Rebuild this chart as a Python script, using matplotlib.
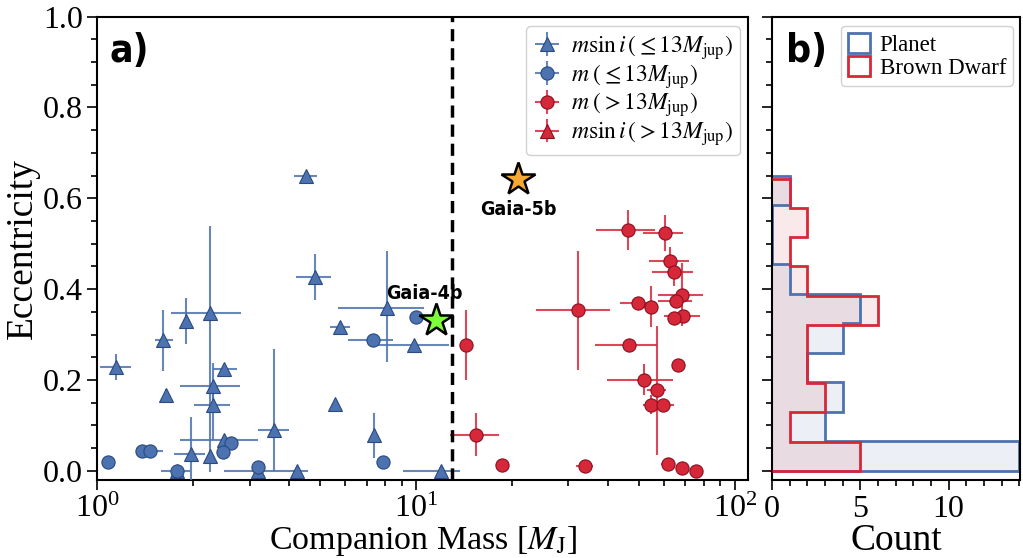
import numpy as np
import matplotlib
matplotlib.use("Agg")
import matplotlib.pyplot as plt
from matplotlib.ticker import MultipleLocator
from matplotlib.patches import Patch
from matplotlib import font_manager as fm
from matplotlib.colors import to_rgba

plt.rcParams['font.family'] = ['Liberation Serif', 'DejaVu Serif']
plt.rcParams['mathtext.fontset'] = 'stix'

BLUE = '#4c72b0'
BLUE_E = '#2a4a80'
RED = '#d62839'
RED_E = '#8a1020'

# ---- blue circles: true mass m (<= 13 Mjup)
bc_mass = [1.08, 1.38, 1.46, 1.78, 2.63, 2.48, 3.19, 7.32, 7.87, 10.0]
bc_ecc = [0.020, 0.044, 0.044, 0.0, 0.062, 0.041, 0.009, 0.289, 0.020, 0.339]
bc_mlo = [0.03, 0.05, 0.05, 0.20, 0.05, 0.05, 0.05, 1.19, 0.0, 0.2]
bc_mhi = [0.03, 0.05, 0.14, 0.17, 0.05, 0.05, 0.05, 1.12, 0.0, 0.2]
bc_elo = [0.01, 0.0, 0.0, 0.0, 0.0, 0.0, 0.0, 0.0, 0.0, 0.0]
bc_ehi = [0.01, 0.0, 0.0, 0.0, 0.0, 0.0, 0.0, 0.0, 0.0, 0.0]

# ---- blue triangles: m sin i (<= 13 Mjup)
bt_mass = [1.14, 1.61, 1.64, 1.90, 2.26, 2.50, 2.30, 2.30, 2.50, 2.26, 1.96,
           3.19, 1.78, 3.59, 4.22, 4.50, 4.83, 5.77, 5.56, 8.12, 7.36, 9.84, 12.0]
bt_ecc = [0.229, 0.287, 0.166, 0.330, 0.348, 0.225, 0.187, 0.146, 0.067, 0.033, 0.038,
          0.0, 0.0, 0.089, 0.0, 0.650, 0.427, 0.317, 0.148, 0.359, 0.078, 0.277, 0.0]
bt_mlo = [0.12, 0.10, 0.02, 0.02, 0.56, 0.20, 0.49, 0.29, 0.69, 0.0, 0.22,
          0.69, 0.0, 0.40, 0.10, 0.37, 0.63, 0.40, 0.0, 2.43, 0.0, 2.30, 2.90]
bt_mhi = [0.13, 0.12, 0.02, 0.02, 0.56, 0.24, 0.51, 0.30, 0.68, 0.0, 0.21,
          1.40, 0.0, 0.40, 0.10, 0.40, 0.57, 0.45, 0.0, 2.50, 0.0, 2.80, 1.70]
bt_elo = [0.028, 0.068, 0.015, 0.05, 0.35, 0.01, 0.05, 0.077, 0.0, 0.0, 0.08,
          0.0, 0.0, 0.09, 0.0, 0.01, 0.05, 0.01, 0.0, 0.12, 0.05, 0.0, 0.0]
bt_ehi = [0.028, 0.068, 0.015, 0.05, 0.19, 0.01, 0.05, 0.05, 0.0, 0.0, 0.08,
          0.0, 0.0, 0.18, 0.0, 0.01, 0.05, 0.01, 0.0, 0.125, 0.05, 0.0, 0.0]

# ---- red circles: true mass m (> 13 Mjup)
rc_mass = [46.2, 60.3, 62.8, 64.5, 68.5, 65.6, 49.7, 54.5, 68.8, 64.5, 32.2, 46.6,
           66.4, 51.9, 57.0, 54.4, 59.6, 33.8, 61.7, 68.5, 75.4, 14.3, 15.45, 18.56]
rc_ecc = [0.531, 0.523, 0.463, 0.438, 0.388, 0.374, 0.370, 0.361, 0.341, 0.336, 0.354, 0.278,
          0.234, 0.201, 0.178, 0.146, 0.146, 0.011, 0.016, 0.007, 0.0, 0.277, 0.080, 0.013]
rc_mlo = [9.6, 8.8, 9.0, 9.5, 11.0, 8.0, 6.0, 3.0, 9.0, 2.0, 8.4, 10.3,
          1.5, 12.2, 4.0, 3.0, 5.0, 2.0, 3.0, 0.0, 0.0, 0.3, 2.65, 0.3]
rc_mhi = [9.9, 8.7, 9.0, 9.5, 11.0, 8.0, 6.0, 3.0, 9.0, 2.0, 8.4, 10.3,
          1.5, 12.2, 4.0, 3.0, 5.0, 2.0, 3.0, 0.0, 0.0, 0.3, 2.75, 0.3]
rc_elo = [0.044, 0.04, 0.03, 0.03, 0.07, 0.01, 0.01, 0.045, 0.01, 0.01, 0.132, 0.01,
          0.01, 0.035, 0.142, 0.02, 0.01, 0.0, 0.0, 0.0, 0.0, 0.077, 0.048, 0.0]
rc_ehi = [0.044, 0.04, 0.03, 0.03, 0.07, 0.01, 0.01, 0.045, 0.01, 0.01, 0.13, 0.01,
          0.01, 0.035, 0.14, 0.02, 0.01, 0.0, 0.0, 0.0, 0.0, 0.077, 0.048, 0.0]

# ---- Gaia companions
gaia4b_mass, gaia4b_ecc = 11.5, 0.333
gaia5b_mass, gaia5b_ecc = 20.9, 0.643
mass_limit = 13.0

planet_ecc = bc_ecc + bt_ecc + [gaia4b_ecc]
bd_ecc = rc_ecc + [gaia5b_ecc]


def narrow_bold_font():
    """Pick the narrowest installed bold sans font available."""
    order = {'ultra-condensed': 0, 'extra-condensed': 1, 'condensed': 2,
             'semi-condensed': 3}
    best = None
    for f in fm.fontManager.ttflist:
        w = f.weight
        if isinstance(w, str):
            w = {'bold': 700, 'heavy': 800, 'black': 900, 'semibold': 600,
                 'demibold': 600, 'extra bold': 800}.get(w, 400)
        if w < 600:
            continue
        if 'Serif' in f.name or 'Mono' in f.name or 'CJK' in f.name:
            continue
        st = f.stretch if isinstance(f.stretch, str) else (
            'condensed' if f.stretch < 500 else 'normal')
        rank = order.get(st, None)
        if rank is None and ('Narrow' in f.name or 'Condensed' in f.name):
            rank = 2
        if rank is None:
            continue
        key = (rank, abs(w - 700))
        if best is None or key < best[0]:
            best = (key, f.fname)
    if best is None:
        return fm.FontProperties(family='DejaVu Sans', weight='bold')
    return fm.FontProperties(fname=best[1])


nfp = narrow_bold_font()

fig = plt.figure(figsize=(10.23, 5.58), dpi=100)
ax = fig.add_axes([0.0953, 0.1398, 0.6359, 0.8306])
axh = fig.add_axes([0.7547, 0.1398, 0.2424, 0.8306], sharey=ax)

ekw = dict(elinewidth=1.5, capsize=0, linestyle='none', markersize=9.5,
           markeredgewidth=0.8)
BLUE_ERR = to_rgba(BLUE, 0.85)
RED_ERR = to_rgba(RED, 0.85)

h_bt = ax.errorbar(bt_mass, bt_ecc, xerr=[bt_mlo, bt_mhi], yerr=[bt_elo, bt_ehi],
                   fmt='^', color=BLUE, ecolor=BLUE_ERR, markeredgecolor=BLUE_E, zorder=3, **ekw)
h_bc = ax.errorbar(bc_mass, bc_ecc, xerr=[bc_mlo, bc_mhi], yerr=[bc_elo, bc_ehi],
                   fmt='o', color=BLUE, ecolor=BLUE_ERR, markeredgecolor=BLUE_E, zorder=3, **ekw)
h_rc = ax.errorbar(rc_mass, rc_ecc, xerr=[rc_mlo, rc_mhi], yerr=[rc_elo, rc_ehi],
                   fmt='o', color=RED, ecolor=RED_ERR, markeredgecolor=RED_E, zorder=3, **ekw)
h_rt = ax.errorbar([], [], xerr=[[], []], yerr=[[], []],
                   fmt='^', color=RED, ecolor=RED_ERR, markeredgecolor=RED_E, zorder=3, **ekw)

ax.axvline(mass_limit, color='black', lw=2.5, ls=(0, (3.5, 2)), zorder=4)

ax.plot([gaia4b_mass], [gaia4b_ecc], marker='*', color='#7dff3a', markeredgecolor='black',
        markeredgewidth=1.8, markersize=25, zorder=5, linestyle='none')
ax.plot([gaia5b_mass], [gaia5b_ecc], marker='*', color='#f7a833', markeredgecolor='black',
        markeredgewidth=1.8, markersize=25, zorder=5, linestyle='none')

fp_small = nfp.copy(); fp_small.set_size(14)
fp_big = nfp.copy(); fp_big.set_size(28)
ax.text(10.6, 0.39, 'Gaia-4b', fontproperties=fp_small, ha='center', va='center', zorder=6)
ax.text(20.9, 0.575, 'Gaia-5b', fontproperties=fp_small, ha='center', va='center', zorder=6)
ax.text(0.018, 0.925, 'a)', transform=ax.transAxes, fontproperties=fp_big, ha='left', va='center')
axh.text(0.055, 0.925, 'b)', transform=axh.transAxes, fontproperties=fp_big, ha='left', va='center')

ax.set_xscale('log')
ax.set_xlim(1, 110)
ax.set_ylim(-0.02, 1.0)
ax.yaxis.set_major_locator(MultipleLocator(0.2))
ax.yaxis.set_minor_locator(MultipleLocator(0.05))
ax.set_xlabel(r'Companion Mass [$M_{\rm J}$]', fontsize=24.5, labelpad=0)
ax.set_ylabel('Eccentricity', fontsize=27, labelpad=2)

leg = ax.legend([h_bt, h_bc, h_rc, h_rt],
                [r'$m\sin i\,(\leq 13M_{\rm jup})$', r'$m\;(\leq 13M_{\rm jup})$',
                 r'$m\;(>13M_{\rm jup})$', r'$m\sin i\,(>13M_{\rm jup})$'],
                loc='upper right', fontsize=17, handlelength=1.2, handletextpad=0.4,
                labelspacing=0.0, borderpad=0.3, framealpha=0.9, edgecolor='#cccccc',
                borderaxespad=0.2, bbox_to_anchor=(0.995, 0.99))

# histogram panel
axh.hist(planet_ecc, bins=10, orientation='horizontal', histtype='stepfilled',
         color=BLUE, alpha=0.1, zorder=1)
axh.hist(bd_ecc, bins=10, orientation='horizontal', histtype='stepfilled',
         color=RED, alpha=0.1, zorder=1)
axh.hist(planet_ecc, bins=10, orientation='horizontal', histtype='step',
         color=BLUE, lw=2, zorder=2)
axh.hist(bd_ecc, bins=10, orientation='horizontal', histtype='step',
         color=RED, lw=2, zorder=3)
axh.set_xlim(0, 14.05)
axh.xaxis.set_major_locator(MultipleLocator(5))
axh.xaxis.set_minor_locator(MultipleLocator(1))
axh.set_xlabel('Count', fontsize=27, labelpad=0)
plt.setp(axh.get_yticklabels(), visible=False)
axh.legend([Patch(facecolor='white', edgecolor=BLUE, lw=2),
            Patch(facecolor='white', edgecolor=RED, lw=2)],
           ['Planet', 'Brown Dwarf'], loc='upper right', fontsize=16.5,
           handlelength=1.0, handleheight=1.0, handletextpad=0.4, labelspacing=0.0,
           borderpad=0.3, framealpha=0.9, edgecolor='#cccccc',
           borderaxespad=0.2, bbox_to_anchor=(0.99, 0.99))

for a in (ax, axh):
    a.tick_params(which='both', direction='out', labelsize=23, width=1.2)
    a.tick_params(which='major', length=7)
    a.tick_params(which='minor', length=4)
    for s in a.spines.values():
        s.set_linewidth(1.5)

fig.savefig('out.png', dpi=100)
